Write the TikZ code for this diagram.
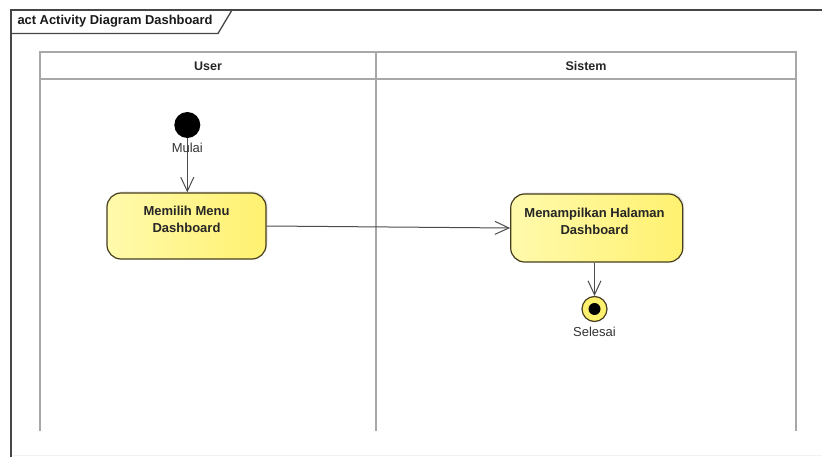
\documentclass[tikz,border=0pt]{standalone}
\usepackage{fontspec}
\setmainfont{Liberation Sans}
\usetikzlibrary{arrows.meta,shadows}

\definecolor{framegray}{RGB}{70,70,70}
\definecolor{lanegray}{RGB}{168,168,168}
\definecolor{actfillA}{RGB}{255,250,172}
\definecolor{actfillB}{RGB}{255,241,112}
\definecolor{actborder}{RGB}{70,62,30}

\tikzset{
  frameline/.style={draw=framegray, line width=1.3pt},
  laneline/.style={draw=lanegray, line width=2pt},
  lanetitle/.style={font=\fontsize{12.5}{15}\selectfont\bfseries, text=black!85},
  activity/.style={draw=actborder, line width=1.2pt, rounded corners=14pt,
    left color=actfillA, right color=actfillB,
    drop shadow={shadow xshift=1.5pt, shadow yshift=1.5pt, fill=black!25, opacity=0.35}},
  acttext/.style={align=center, font=\fontsize{13}{17}\selectfont\bfseries, text=black!85},
  flow/.style={draw=black!70, line width=1pt, -{Straight Barb[length=14pt,width=13pt,line width=1pt]}},
  nodelabel/.style={font=\fontsize{13}{15}\selectfont, text=black!80}
}

\begin{document}
\begin{tikzpicture}[x=1pt,y=-1pt]
\useasboundingbox (0,0) rectangle (822,457);
\fill[white] (0,0) rectangle (822,457);

% diagram frame with its name tab
\draw[draw=black!5, line width=1pt] (11,455) -- (822,455);
\draw[frameline] (11,457) -- (11,10) -- (822,10);
\draw[frameline] (11,33.5) -- (218,33.5) -- (232,10);
\node[anchor=west, font=\fontsize{12.9}{15}\selectfont\bfseries, text=black!90] (title) at (14,21.5) {act Activity Diagram Dashboard};

% swimlanes
\draw[laneline] (40,52.5) rectangle (796,79);
\draw[laneline] (40,52.5) -- (40,431);
\draw[laneline] (376,52.5) -- (376,431);
\draw[laneline] (796,52.5) -- (796,431);
\node[lanetitle] (laneuser) at (208,66) {User};
\node[lanetitle] (lanesistem) at (586,66) {Sistem};

% initial node
\node[circle, fill=black, minimum size=26pt, inner sep=0pt] (start) at (187.3,125) {};

% activities
\node[activity, minimum width=159pt, minimum height=66pt] (pilih) at (186.5,226) {};
\node[acttext] (pilihtext) at (186.5,219.5) {Memilih Menu\\Dashboard};

\node[activity, minimum width=172pt, minimum height=68pt] (tampil) at (596.7,228) {};
\node[acttext] (tampiltext) at (594.5,221.5) {Menampilkan Halaman\\Dashboard};

% final node
\node[circle, draw=actborder, line width=1.2pt, fill=actfillB, minimum size=25pt, inner sep=0pt] (selesai) at (594.5,309) {};
\node[circle, fill=black, minimum size=12pt, inner sep=0pt] (selesaidot) at (selesai.center) {};

% control flows
\draw[flow] (start.south) -- (pilih.north -| start.south);
\draw[flow] (pilih.east) -- (tampil.west);
\draw[flow] (tampil.south -| selesai.north) -- (selesai.north);

% node labels
\node[nodelabel] (mulai) at (187.3,148) {Mulai};
\node[nodelabel] (selesailabel) at (594.5,332) {Selesai};
\end{tikzpicture}
\end{document}
